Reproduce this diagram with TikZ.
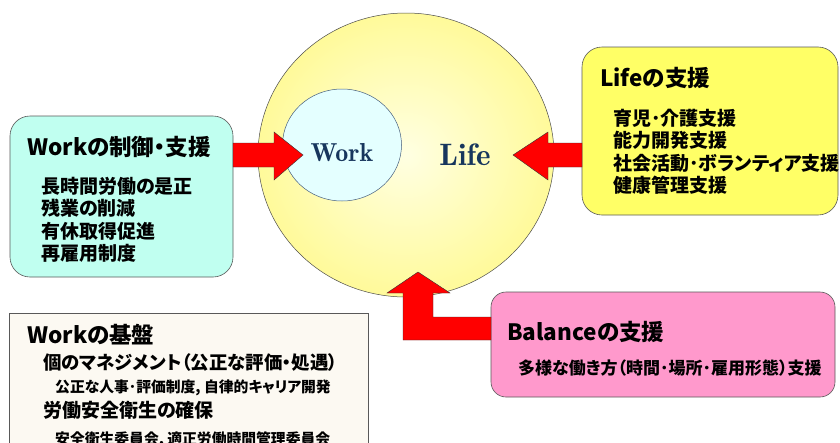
\documentclass[tikz,border=0pt]{standalone}
\usepackage{fontspec}
\setmainfont{Noto Sans CJK JP}[RawFeature=+palt]
\newfontfamily\serifwl{lmromandemi10-regular.otf}
\usetikzlibrary{shapes.geometric}
\definecolor{boxcyan}{HTML}{C0FFF0}
\definecolor{boxyellow}{HTML}{FFFF66}
\definecolor{boxpink}{HTML}{FF99CC}
\definecolor{boxcream}{HTML}{FCF9F2}
\definecolor{navy}{HTML}{17365D}
\definecolor{circin}{HTML}{FFFFE2}
\definecolor{circout}{HTML}{FFFA9A}
\definecolor{workfill}{HTML}{E4FFFF}
\tikzset{
  panel/.style={draw=gray!70!black, line width=0.6pt, rounded corners=20pt},
  txt/.style={anchor=west, inner sep=0pt, text=black},
  ttl/.style={txt, font=\bfseries\fontsize{22.5}{26}\selectfont},
  itm/.style={txt, font=\bfseries\fontsize{19}{22}\selectfont},
  redarrow/.style={fill=red, draw=black!80, line width=0.4pt, line join=miter}
}
\begin{document}
\begin{tikzpicture}[x=1pt,y=-1pt]
\useasboundingbox (0,0) rectangle (840,442);
\fill[white] (0,0) rectangle (840,442);

% big circle
\shade[inner color=circin, outer color=circout, draw=gray!60!black, line width=0.5pt]
  (406,155) ellipse [x radius=148, y radius=142];
\node[draw=none, minimum width=296pt, minimum height=284pt, ellipse] (life) at (406,155) {};
% inner work ellipse
\node[ellipse, draw=navy!80, line width=0.5pt, fill=workfill, minimum width=119pt, minimum height=112pt] (work) at (342,145) {};
\node[inner sep=0pt, text=navy, font=\serifwl\fontsize{26}{30}\selectfont] (worklbl) at (342,153) {Work};
\node[inner sep=0pt, text=navy, font=\serifwl\fontsize{31}{36}\selectfont] (lifelbl) at (465,155) {Life};

% left box
\path[panel, fill=boxcyan] (10,116) rectangle (233,277);
\coordinate (wcE) at (233,155);
\node[ttl] (wct) at (27,147) {Workの制御・支援};
\node[itm] (wc1) at (41,186) {長時間労働の是正};
\node[itm] (wc2) at (41,208.5) {残業の削減};
\node[itm] (wc3) at (41,231) {有休取得促進};
\node[itm] (wc4) at (41,253.5) {再雇用制度};

% life box
\path[panel, fill=boxyellow] (582,47) rectangle (838,215);
\coordinate (lsW) at (582,155);
\node[ttl] (lst) at (600,78) {Lifeの支援};
\node[itm] (ls1) at (613,118) {育児･介護支援};
\node[itm] (ls2) at (613,140) {能力開発支援};
\node[itm] (ls3) at (613,163) {社会活動･ボランティア支援};
\node[itm] (ls4) at (613,185) {健康管理支援};

% balance box
\path[panel, rounded corners=15pt, fill=boxpink] (491,292) rectangle (835,397);
\node[ttl] (bst) at (507,332) {Balanceの支援};
\node[txt, font=\bfseries\fontsize{17}{20}\selectfont] (bs1) at (518,368) {多様な働き方（時間･場所･雇用形態）支援};

% work foundation box
\path[draw=gray!70!black, line width=0.6pt, fill=boxcream] (9,313) -- (368,313) -- (368,445) -- (9,445) -- cycle;
\node[ttl] (wft) at (27,335) {Workの基盤};
\node[txt, font=\bfseries\fontsize{18.4}{22}\selectfont] (wf1) at (43,363) {個のマネジメント（公正な評価・処遇）};
\node[txt, font=\bfseries\fontsize{14.8}{18}\selectfont] (wf2) at (55,388) {公正な人事･評価制度, 自律的キャリア開発};
\node[txt, font=\bfseries\fontsize{19}{22}\selectfont] (wf3) at (43,410) {労働安全衛生の確保};
\node[txt, font=\bfseries\fontsize{14.8}{18}\selectfont] (wf4) at (55,439.5) {安全衛生委員会, 適正労働時間管理委員会};

% arrows
\draw[redarrow] (wcE |- 0,143) -- (274,143) -- (274,132) -- (303,155) -- (274,180) -- (274,167) -- (wcE |- 0,167) -- cycle;
\draw[redarrow] (lsW |- 0,143) -- (548,143) -- (548,132) -- (513,155) -- (548,180) -- (548,167) -- (lsW |- 0,167) -- cycle;
\draw[redarrow] (403,340) -- (403,293) -- (387,293) -- (418,272) -- (450,293) -- (433,293) -- (433,317) -- (491,317) -- (491,340) -- cycle;
\end{tikzpicture}
\end{document}
